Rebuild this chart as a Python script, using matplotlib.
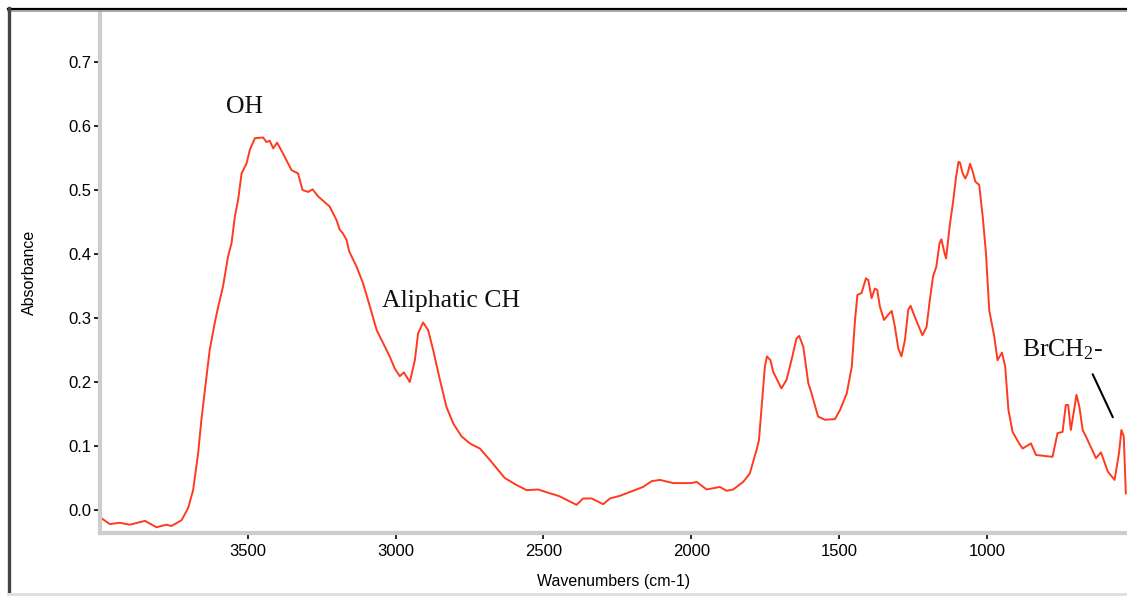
import matplotlib
matplotlib.use("Agg")
import matplotlib.pyplot as plt
from matplotlib.lines import Line2D
from matplotlib.ticker import MultipleLocator, FormatStrFormatter

plt.rcParams['mathtext.fontset'] = 'custom'
plt.rcParams['mathtext.rm'] = 'Liberation Serif'
plt.rcParams['mathtext.it'] = 'Liberation Serif:italic'

# IR spectrum (wavenumber, absorbance)
wavenumbers = [3995, 3967, 3933, 3899, 3848, 3809, 3775, 3758, 3724, 3702, 3685, 3668,
               3657, 3645, 3629, 3612, 3600, 3584, 3567, 3555, 3544, 3533, 3521, 3504,
               3493, 3476, 3448, 3437, 3426, 3414, 3401, 3381, 3352, 3330, 3315, 3296,
               3281, 3262, 3223, 3200, 3189, 3178, 3166, 3157, 3132, 3110, 3087, 3064,
               3036, 3020, 3003, 2986, 2972, 2952, 2935, 2924, 2907, 2890, 2873, 2850,
               2828, 2805, 2777, 2749, 2715, 2681, 2631, 2591, 2557, 2518, 2478, 2456,
               2444, 2388, 2366, 2337, 2298, 2275, 2242, 2197, 2163, 2134, 2106, 2061,
               1999, 1982, 1948, 1903, 1881, 1858, 1824, 1802, 1779, 1771, 1759, 1751,
               1744, 1732, 1723, 1695, 1678, 1661, 1644, 1635, 1621, 1604, 1593, 1571,
               1548, 1514, 1497, 1474, 1457, 1446, 1438, 1424, 1409, 1401, 1390, 1379,
               1371, 1362, 1348, 1334, 1322, 1311, 1300, 1289, 1277, 1266, 1258, 1244,
               1218, 1204, 1193, 1182, 1171, 1160, 1154, 1143, 1138, 1126, 1115, 1104,
               1096, 1091, 1082, 1073, 1065, 1057, 1048, 1039, 1026, 1014, 1003, 992,
               975, 964, 949, 938, 927, 913, 891, 879, 851, 834, 778, 761,
               744, 733, 725, 716, 704, 697, 687, 676, 665, 631, 614, 591,
               568, 553, 545, 537, 530]
absorbance = [-0.013, -0.022, -0.020, -0.023, -0.017, -0.027, -0.023, -0.025, -0.016, 0.003, 0.031, 0.089,
              0.141, 0.188, 0.250, 0.292, 0.318, 0.349, 0.396, 0.417, 0.458, 0.484, 0.526, 0.542,
              0.563, 0.581, 0.582, 0.575, 0.577, 0.565, 0.574, 0.557, 0.531, 0.526, 0.500, 0.497,
              0.501, 0.490, 0.474, 0.453, 0.438, 0.432, 0.422, 0.404, 0.380, 0.354, 0.318, 0.281,
              0.255, 0.240, 0.221, 0.209, 0.215, 0.200, 0.234, 0.276, 0.293, 0.281, 0.250, 0.203,
              0.161, 0.135, 0.115, 0.104, 0.096, 0.078, 0.050, 0.039, 0.031, 0.032, 0.026, 0.023,
              0.021, 0.008, 0.018, 0.018, 0.009, 0.018, 0.022, 0.030, 0.036, 0.045, 0.047, 0.042,
              0.042, 0.044, 0.032, 0.036, 0.030, 0.032, 0.044, 0.057, 0.094, 0.109, 0.177, 0.224,
              0.240, 0.234, 0.216, 0.190, 0.203, 0.234, 0.268, 0.272, 0.255, 0.198, 0.182, 0.146,
              0.141, 0.142, 0.156, 0.182, 0.224, 0.297, 0.336, 0.339, 0.362, 0.359, 0.331, 0.346,
              0.344, 0.318, 0.297, 0.305, 0.311, 0.286, 0.253, 0.240, 0.266, 0.313, 0.319, 0.302,
              0.273, 0.286, 0.328, 0.365, 0.380, 0.417, 0.423, 0.401, 0.393, 0.443, 0.479, 0.521,
              0.544, 0.543, 0.526, 0.518, 0.526, 0.541, 0.529, 0.513, 0.508, 0.458, 0.401, 0.312,
              0.271, 0.234, 0.246, 0.224, 0.156, 0.122, 0.104, 0.096, 0.104, 0.086, 0.083, 0.120,
              0.122, 0.164, 0.164, 0.125, 0.159, 0.180, 0.161, 0.125, 0.115, 0.081, 0.090, 0.060,
              0.047, 0.089, 0.125, 0.115, 0.026]

x_ticks = [3500, 3000, 2500, 2000, 1500, 1000]
annotation_texts = ["OH", "Aliphatic CH", "BrCH$_{2}$-"]
annotation_pos = [(3510, 0.630), (2811, 0.326), (743, 0.25)]

W, H = 1127, 596
fig = plt.figure(figsize=(W / 100, H / 100), dpi=100)
ax = fig.add_axes([100 / W, 1 - 532.5 / H, 1 - 100 / W, (532.5 - 13) / H])

ax.plot(wavenumbers, absorbance, color='#ff3a1e', lw=1.4)
ax.set_xlim(4000, 526)
ax.set_ylim(-0.0352, 0.7766)

for s in ['top', 'right']:
    ax.spines[s].set_visible(False)
for s in ['left', 'bottom']:
    ax.spines[s].set_color('#cdcdcd')
    ax.spines[s].set_linewidth(3.0)

ax.set_xticks(x_ticks)
ax.xaxis.set_minor_locator(MultipleLocator(100))
ax.yaxis.set_major_locator(MultipleLocator(0.1))
ax.yaxis.set_minor_locator(MultipleLocator(0.025))
ax.yaxis.set_major_formatter(FormatStrFormatter('%.1f'))

tickfont = 'Liberation Sans'
ax.tick_params(which='major', direction='out', length=4, width=1.2, color='black',
               labelsize=12, pad=2)
ax.tick_params(axis='x', which='major', pad=4)
ax.tick_params(which='minor', direction='inout', length=1.4, width=1.4, color='black')
for lab in ax.get_xticklabels() + ax.get_yticklabels():
    lab.set_fontfamily(tickfont)

ax.set_xlabel('Wavenumbers (cm-1)', fontsize=11.5, family=tickfont, labelpad=11)
ax.set_ylabel('Absorbance', fontsize=11.5, family=tickfont, labelpad=23)

for txt, (x, y) in zip(annotation_texts, annotation_pos):
    ax.text(x, y, txt, fontsize=18.5, family='Liberation Serif', ha='center', va='center',
            color='#111111')

ax.annotate('', xy=(570, 0.141), xytext=(646, 0.216),
            arrowprops=dict(arrowstyle='-', color='black', lw=1.5))

# window-like frame
def fline(x0, y0, x1, y1, color, lw):
    fig.add_artist(Line2D([x0 / W, x1 / W], [1 - y0 / H, 1 - y1 / H],
                          transform=fig.transFigure, color=color, lw=lw))

fline(8, 8.5, W, 8.5, 'black', 1.6)
fline(8, 10.5, W, 10.5, '#9a9a9a', 1.2)
fline(9, 8, 9, 593, '#444444', 2.4)
fline(8, 594, W, 594, '#e0e0e0', 2.2)

fig.savefig('out.png', dpi=100)
